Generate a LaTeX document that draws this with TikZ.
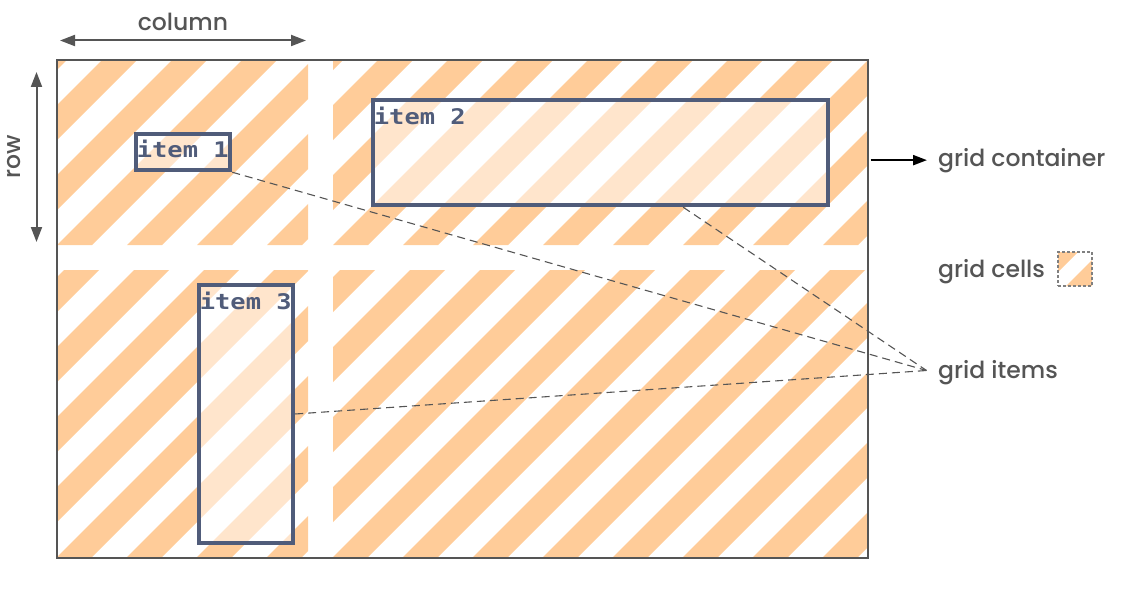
\documentclass[tikz,border=0pt]{standalone}
\usepackage{fontspec}
\setmainfont{Poppins Medium}
\newfontfamily\itemfont[FakeStretch=1.18]{DejaVu Sans Mono}
\usetikzlibrary{arrows.meta,calc}
\definecolor{stripeor}{HTML}{FFCC99}
\definecolor{itemc}{HTML}{505C7A}
\definecolor{labelc}{HTML}{555555}
\definecolor{linec}{HTML}{555555}
\newcommand\stripecell[4]{%
  \begin{scope}
    \clip (#1,#2) rectangle (#3,#4);
    \pgfmathsetmacro\cc{#1+#4}
    \foreach \k in {-6,...,9}{%
      \fill[stripeor] ({\cc+70*\k-#2},#2) -- ({\cc+70*\k+35-#2},#2) -- ({\cc+70*\k+35-#4},#4) -- ({\cc+70*\k-#4},#4) -- cycle;
    }
  \end{scope}}
\tikzset{
  container/.style={draw=linec, line width=1.2pt, minimum width=811pt, minimum height=498pt, inner sep=0pt},
  itembox/.style={draw=itemc, line width=4.5pt, fill=white, fill opacity=0.5, inner sep=0pt},
  itemlabel/.style={font=\itemfont\bfseries\fontsize{21.5}{21.5}\selectfont, text=itemc, inner sep=0pt, anchor=base west},
  lbl/.style={font=\fontsize{23.5}{27}\selectfont, text=labelc, inner sep=0pt},
  dimarrow/.style={draw=linec, line width=2pt, {Triangle[length=15pt,width=11pt]}-{Triangle[length=15pt,width=11pt]}},
  leader/.style={draw=linec, line width=1.1pt, dash pattern=on 8pt off 5pt},
  pointer/.style={draw=black, line width=2.2pt, -{Triangle[length=14pt,width=10pt]}},
  cellkey/.style={draw=gray, line width=1.2pt, dash pattern=on 3pt off 2pt, minimum size=34pt, inner sep=0pt}
}
\begin{document}
\begin{tikzpicture}[x=1pt,y=-1pt]
\useasboundingbox (0,0) rectangle (1148,591);
% grid cells
\stripecell{57}{60}{308}{245}
\stripecell{333}{60}{868}{245}
\stripecell{57}{270}{308}{557}
\stripecell{333}{270}{868}{557}
% container
\node[container] (cont) at (462.5,309) {};
% items
\node[itembox, minimum width=94pt, minimum height=36pt] (i1) at (183,152) {};
\node[itembox, minimum width=455pt, minimum height=105pt] (i2) at (600.5,152.5) {};
\node[itembox, minimum width=94pt, minimum height=258pt] (i3) at (246,414) {};
\node[itemlabel] (t1) at ([xshift=3pt,yshift=-26pt]i1.north west) {item 1};
\node[itemlabel] (t2) at ([xshift=3pt,yshift=-27pt]i2.north west) {item 2};
\node[itemlabel] (t3) at ([xshift=3pt,yshift=-27pt]i3.north west) {item 3};
% labels
\node[lbl, anchor=base] (lcol) at (183,30.5) {column};
\node[lbl, rotate=90, anchor=base] (lrow) at (20,157) {row};
\node[lbl, anchor=base west] (lgc) at (938,166) {grid container};
\node[lbl, anchor=base west] (lgcells) at (938,277) {grid cells};
\node[lbl, anchor=base west] (lgi) at (938,378) {grid items};
% dimension arrows
\coordinate (cl) at (60,40.5);
\coordinate (cr) at (306,40.5);
\draw[dimarrow] (cl) -- (cr);
\coordinate (rt) at (36.5,72);
\coordinate (rb) at (36.5,242);
\draw[dimarrow] (rt) -- (rb);
% container pointer
\draw[pointer] ([xshift=2pt]cont.east |- lgc.west) -- ([xshift=-11pt]lgc.west);
% cell key
\begin{scope}
  \clip (1058,252) rectangle (1092,286);
  \fill[stripeor] (1058,252) -- (1078,252) -- (1058,272) -- cycle;
  \fill[stripeor] (1092,260) -- (1092,286) -- (1066,286) -- cycle;
\end{scope}
\node[cellkey] (key) at (1075,269) {};
% leaders
\coordinate (gip) at (926.5,370.5);
\draw[leader] (i1.south east) -- (gip);
\draw[leader] ($(i2.south west)!0.68!(i2.south east)$) -- (gip);
\draw[leader] (i3.east) -- (gip);
\end{tikzpicture}
\end{document}
